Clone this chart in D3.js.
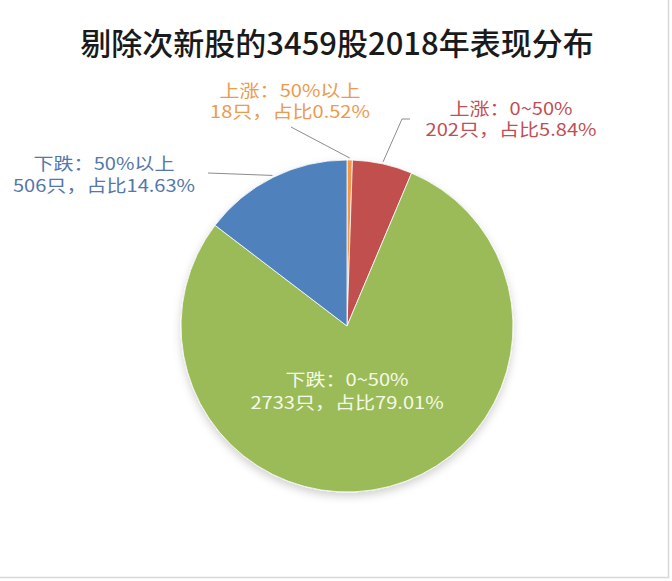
<!DOCTYPE html>
<html>
<head>
<meta charset="utf-8">
<script src="https://cdn.jsdelivr.net/npm/d3@7"></script>
<style>
  body { margin: 0; background: #fff; }
  text { font-family: "Noto Sans CJK SC", "Noto Sans", sans-serif; }
</style>
</head>
<body>
<div id="chart"></div>
<script>
const WIDTH = 672;
const HEIGHT = 581;

// data, clockwise from 12 o'clock
const categories = ["上涨：50%以上", "上涨：0~50%", "下跌：0~50%", "下跌：50%以上"];
const counts = [18, 202, 2733, 506];
const shares = ["0.52%", "5.84%", "79.01%", "14.63%"];
const sliceColors = ["#F79646", "#C0504D", "#9BBB59", "#4F81BD"];
const labelColors = ["#EE9A4E", "#BF4F55", "#F4FAE6", "#5577AA"];

const CENTER = { X: 347, Y: 326 };
const RADIUS = 166;

const svg = d3.select("#chart").append("svg")
  .attr("width", WIDTH)
  .attr("height", HEIGHT);

svg.append("rect")
  .attr("width", WIDTH)
  .attr("height", HEIGHT)
  .attr("fill", "#fff");

// thin frame on right / bottom like the screenshot
svg.append("path")
  .attr("d", `M${WIDTH - 3.5},0 V${HEIGHT - 3.5} H0`)
  .attr("fill", "none")
  .attr("stroke", "#d8d8d8")
  .attr("stroke-width", 1.5);

// title
svg.append("text")
  .attr("x", 337)
  .attr("y", 55)
  .attr("text-anchor", "middle")
  .attr("font-size", "31px")
  .attr("font-weight", 500)
  .attr("fill", "#1a1a1a")
  .text("剔除次新股的3459股2018年表现分布");

// soft shadow
const defs = svg.append("defs");
const filter = defs.append("filter")
  .attr("id", "shadow")
  .attr("x", "-20%").attr("y", "-20%")
  .attr("width", "140%").attr("height", "140%");
filter.append("feDropShadow")
  .attr("dx", 0).attr("dy", 4)
  .attr("stdDeviation", 4)
  .attr("flood-color", "#000")
  .attr("flood-opacity", 0.18);

const data = categories.map((c, i) => ({
  name: c, count: counts[i], share: shares[i],
  color: sliceColors[i], labelColor: labelColors[i]
}));

const pie = d3.pie().sort(null).value(d => d.count);
const arcs = pie(data);

const arc = d3.arc().innerRadius(0).outerRadius(RADIUS);

const g = svg.append("g")
  .attr("transform", `translate(${CENTER.X}, ${CENTER.Y})`);

g.append("g")
  .attr("filter", "url(#shadow)")
  .selectAll("path")
  .data(arcs)
  .enter().append("path")
  .attr("d", arc)
  .attr("fill", d => d.data.color)
  .attr("stroke", "#fff")
  .attr("stroke-width", 0.8);

// label placement (absolute, relative to svg)
const labelPos = [
  { x: 290, y1: 97, y2: 118, line: [[291 - CENTER.X, 127 - CENTER.Y]] },
  { x: 511, y1: 115, y2: 136, line: [[410 - CENTER.X, 119 - CENTER.Y], [402 - CENTER.X, 119 - CENTER.Y]] },
  { x: 347, y1: 386, y2: 409, line: null },
  { x: 104, y1: 170, y2: 192, line: [[208 - CENTER.X, 173 - CENTER.Y]] }
];

// leader lines from the slice edge
arcs.forEach((d, i) => {
  const p = labelPos[i];
  if (!p.line) return;
  const mid = (d.startAngle + d.endAngle) / 2;
  const edge = [Math.sin(mid) * (RADIUS + 2), -Math.cos(mid) * (RADIUS + 2)];
  g.append("path")
    .attr("d", d3.line()(p.line.concat([edge])))
    .attr("fill", "none")
    .attr("stroke", "#8c8c8c")
    .attr("stroke-width", 1);
});

// labels (glyphs in the source are a bit wider than Noto, so stretch x)
arcs.forEach((d, i) => {
  const p = labelPos[i];
  const lbl = svg.append("g")
    .attr("transform", `translate(${p.x}, 0) scale(1.18, 1)`);
  const t = lbl.append("text")
    .attr("text-anchor", "middle")
    .attr("font-size", "17px")
    .attr("fill", d.data.labelColor);
  t.append("tspan")
    .attr("x", 0)
    .attr("y", p.y1)
    .text(d.data.name);
  t.append("tspan")
    .attr("x", 0)
    .attr("y", p.y2)
    .text(`${d.data.count}只，占比${d.data.share}`);
});
</script>
</body>
</html>
